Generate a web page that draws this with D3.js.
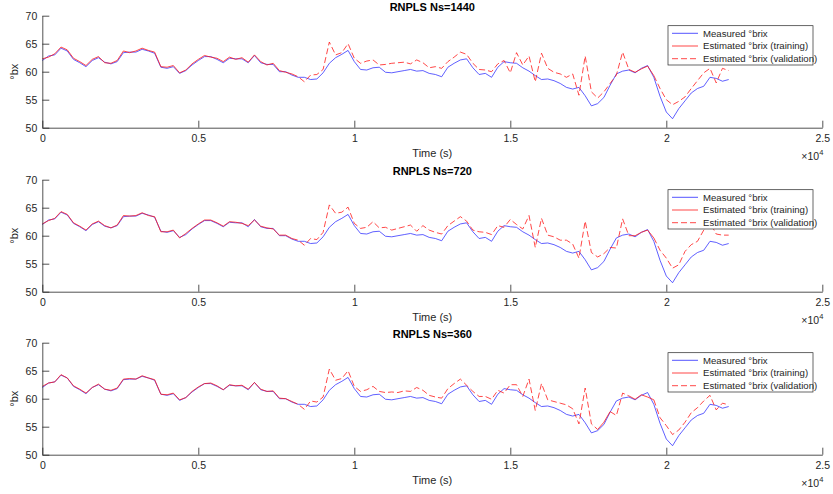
<!DOCTYPE html>
<html>
<head>
<meta charset="utf-8">
<script src="https://cdn.jsdelivr.net/npm/d3@7"></script>
<style>
  body { margin: 0; background: #fff; }
  text { font-family: "Liberation Sans", Arial, Helvetica, sans-serif; }
</style>
</head>
<body>
<div id="chart"></div>
<script>
// sample times (s), one reading every 200 s
const times = d3.range(0, 22001, 200);

// measured brix, shared by all three panels
const measured = [
  62.0, 62.8, 63.0, 64.2, 63.7, 62.2, 61.6, 60.9, 62.0, 62.5,
  61.7, 61.4, 61.8, 63.4, 63.5, 63.5, 64.0, 63.7, 63.3, 60.8,
  60.6, 60.9, 59.7, 60.2, 61.2, 62.0, 62.7, 62.7, 62.2, 61.6,
  62.4, 62.3, 62.3, 61.6, 62.9, 61.6, 61.3, 61.3, 60.0, 60.0,
  59.4,
  59.0, 59.0, 58.6, 58.7, 59.8, 61.5, 62.5, 63.1, 63.8, 61.8,
  60.4, 60.3, 60.7, 60.8, 59.9, 59.8, 60.0, 60.2, 60.4, 60.1,
  60.2, 59.7, 59.5, 59.1, 60.8, 61.5, 62.1, 62.3, 60.7, 59.5,
  59.7, 59.0, 60.8, 61.8, 61.6, 61.5, 60.7, 60.1, 59.3, 58.6,
  58.7, 58.4, 57.9, 57.2, 56.9, 57.2, 55.7, 53.9, 54.3, 55.4,
  57.6, 59.6, 60.1, 60.3, 59.8, 60.6, 61.1, 59.0, 55.6, 52.8,
  51.6, 53.4, 54.8, 56.2, 57.0, 57.4, 59.0, 58.8, 58.3, 58.6
];

const estimated1440 = [
  62.3, 62.6, 63.2, 64.4, 63.9, 62.4, 61.8, 61.1, 62.2, 62.7,
  61.6, 61.5, 62.0, 63.7, 63.4, 63.7, 64.2, 63.8, 63.5, 60.9,
  60.8, 61.1, 59.8, 60.3, 61.4, 62.2, 62.9, 62.6, 62.4, 61.8,
  62.6, 62.2, 62.5, 61.7, 63.0, 61.8, 61.2, 61.5, 60.2, 59.9,
  59.6,
  59.1, 58.2, 59.4, 59.5, 60.4, 65.3, 63.0, 63.4, 65.0, 62.4,
  61.5, 61.9, 62.1, 61.2, 61.3, 61.5, 61.6, 61.7, 61.4, 62.1,
  61.6, 60.7, 60.9, 60.6, 61.8, 62.6, 63.5, 63.1, 61.5, 60.4,
  60.3, 60.0, 61.4, 62.0, 59.8, 63.4, 61.2, 62.8, 58.2, 63.3,
  60.6, 59.9, 59.6, 59.0, 59.6, 55.8, 62.8, 56.4, 55.3, 56.4,
  57.9, 59.4, 63.5, 60.4, 59.9, 60.5, 61.0, 59.3, 57.0, 55.0,
  54.1, 54.7, 55.5, 57.0, 58.4, 59.8, 60.6, 58.0, 60.6, 60.2
];

const estimated720 = [
  62.1, 62.7, 63.1, 64.3, 63.8, 62.3, 61.7, 61.0, 62.1, 62.6,
  61.8, 61.4, 61.9, 63.6, 63.5, 63.6, 64.1, 63.6, 63.4, 60.7,
  60.7, 61.0, 59.6, 60.4, 61.3, 62.1, 62.8, 62.8, 62.3, 61.7,
  62.5, 62.4, 62.2, 61.8, 62.8, 61.7, 61.4, 61.2, 60.1, 60.1,
  59.5,
  59.2, 58.3, 59.5, 59.3, 60.6, 65.5, 64.0, 64.2, 65.1, 62.2,
  61.3, 61.5, 62.5, 61.4, 61.5, 61.0, 61.3, 61.6, 61.9, 60.8,
  61.8, 61.0, 60.6, 60.3, 61.8, 62.6, 63.4, 62.6, 61.0, 60.7,
  60.6, 60.2, 61.8, 61.5, 62.9, 62.0, 61.2, 63.6, 57.9, 63.1,
  60.1, 59.8, 59.2, 59.2, 58.5, 56.0, 62.6, 57.0, 56.2, 56.8,
  57.9, 57.8, 63.0, 60.0, 60.0, 60.6, 61.0, 59.6, 57.4, 56.0,
  54.2, 54.8, 57.2, 58.4, 59.0, 61.0, 62.3, 60.3, 60.1, 60.1
];

const estimated360 = [
  62.2, 62.8, 63.0, 64.3, 63.7, 62.3, 61.7, 61.0, 62.0, 62.6,
  61.7, 61.5, 61.9, 63.5, 63.6, 63.5, 64.1, 63.7, 63.4, 60.8,
  60.7, 61.0, 59.8, 60.2, 61.3, 62.1, 62.7, 62.8, 62.3, 61.6,
  62.5, 62.3, 62.4, 61.7, 62.9, 61.7, 61.3, 61.4, 60.1, 60.0,
  59.5,
  59.0, 58.1, 59.6, 59.4, 60.3, 65.3, 63.3, 63.6, 65.0, 62.2,
  61.3, 61.6, 62.2, 61.3, 61.1, 61.2, 61.1, 61.4, 61.3, 62.0,
  61.5, 60.6, 60.3, 60.1, 61.8, 62.7, 63.5, 62.4, 61.3, 60.4,
  60.4, 59.9, 61.5, 61.0, 62.5, 62.5, 60.4, 63.5, 57.9, 62.7,
  59.8, 59.5, 59.2, 58.9, 58.2, 55.5, 61.9, 55.5, 54.5, 55.8,
  57.7, 57.0, 61.0, 60.5, 59.9, 60.7, 60.3, 59.8, 56.6, 55.2,
  53.6, 54.4, 55.8, 57.5, 58.4, 59.6, 60.6, 58.0, 59.2, 58.9
];

const panelTitles = ['RNPLS Ns=1440', 'RNPLS Ns=720', 'RNPLS Ns=360'];
const panelEstimates = [estimated1440, estimated720, estimated360];
// time windows (s) drawn as the training series
const trainingWindows = [
  [[0, 8000], [18800, 19600]],
  [[0, 8000], [18800, 19600]],
  [[0, 8000], [17800, 18200], [18800, 19600]]
];

const xTicks = [0, 5000, 10000, 15000, 20000, 25000];
const xTickLabels = ['0', '0.5', '1', '1.5', '2', '2.5'];
const yTicks = [50, 55, 60, 65, 70];
const legendLabels = ['Measured \u00B0brix', 'Estimated \u00B0brix (training)', 'Estimated \u00B0brix (validation)'];

// layout
const width = 833, height = 494;
const panelTops = [15.7, 179.7, 342.7];
const plotH = 112;
const left = 42.3, right = 822.3;
const axisColor = '#262626';
const blue = '#2b2bff';
const red = '#ff1a1a';

const svg = d3.select('#chart').append('svg')
  .attr('width', width)
  .attr('height', height);

const x = d3.scaleLinear().domain([0, 25000]).range([left, right]);
const y = d3.scaleLinear().domain([50, 70]).range([plotH, 0]);

function inWindow(t, wins) {
  return wins.some(w => t >= w[0] && t <= w[1]);
}
function strictlyInWindow(t, wins) {
  return wins.some(w => t > w[0] && t < w[1]);
}

panelTitles.forEach((title, i) => {
  const g = svg.append('g').attr('transform', `translate(0,${panelTops[i]})`);
  const est = panelEstimates[i];
  const wins = trainingWindows[i];

  const line = d3.line()
    .x(d => x(d[0]))
    .y(d => y(d[1]));

  const measPts = times.map((t, k) => [t, measured[k]]);
  const estPts = times.map((t, k) => [t, est[k]]);

  g.append('path')
    .attr('d', line(measPts))
    .attr('fill', 'none')
    .attr('stroke', blue)
    .attr('stroke-opacity', 0.75)
    .attr('stroke-width', 1);

  g.append('path')
    .attr('d', line.defined(d => inWindow(d[0], wins))(estPts))
    .attr('fill', 'none')
    .attr('stroke', red)
    .attr('stroke-opacity', 0.8)
    .attr('stroke-width', 1);

  g.append('path')
    .attr('d', line.defined(d => !strictlyInWindow(d[0], wins))(estPts))
    .attr('fill', 'none')
    .attr('stroke', red)
    .attr('stroke-opacity', 0.8)
    .attr('stroke-width', 1)
    .attr('stroke-dasharray', '6,3');

  // axes, ticks pointing inward
  const xAxis = d3.axisBottom(x)
    .tickValues(xTicks)
    .tickFormat((d, k) => xTickLabels[k])
    .tickSizeInner(-7)
    .tickSizeOuter(0)
    .tickPadding(7);
  const yAxis = d3.axisLeft(y)
    .tickValues(yTicks)
    .tickSizeInner(-7)
    .tickSizeOuter(0)
    .tickPadding(5);

  const gx = g.append('g').attr('transform', `translate(0,${plotH})`).call(xAxis);
  const gy = g.append('g').attr('transform', `translate(${left},0)`).call(yAxis);
  [gx, gy].forEach(a => {
    a.select('.domain').attr('stroke', axisColor).attr('stroke-width', 0.8);
    a.selectAll('.tick line').attr('stroke', axisColor).attr('stroke-width', 0.8);
    a.selectAll('.tick text')
      .attr('fill', axisColor)
      .style('font-size', '10.5px')
      .style('font-family', '"Liberation Sans", Arial, sans-serif');
  });

  // title
  g.append('text')
    .attr('x', (left + right) / 2)
    .attr('y', -5)
    .attr('text-anchor', 'middle')
    .style('font-size', '11px')
    .style('font-weight', 'bold')
    .attr('fill', '#000')
    .text(title);

  // x label
  g.append('text')
    .attr('x', (left + right) / 2)
    .attr('y', plotH + 29)
    .attr('text-anchor', 'middle')
    .style('font-size', '11px')
    .attr('fill', axisColor)
    .text('Time (s)');

  // exponent
  const ex = g.append('text')
    .attr('x', right + 1)
    .attr('y', plotH + 32)
    .attr('text-anchor', 'end')
    .style('font-size', '10.5px')
    .attr('fill', axisColor);
  ex.append('tspan').text('\u00D710');
  ex.append('tspan').attr('dy', -5).style('font-size', '7.5px').text('4');

  // y label
  g.append('text')
    .attr('transform', `translate(18,${plotH / 2}) rotate(-90)`)
    .attr('text-anchor', 'middle')
    .style('font-size', '11px')
    .attr('fill', axisColor)
    .text('\u00B0bx');

  // legend
  const lg = g.append('g').attr('transform', 'translate(668,10)');
  lg.append('rect')
    .attr('width', 145)
    .attr('height', 39.3)
    .attr('fill', '#fff')
    .attr('stroke', axisColor)
    .attr('stroke-width', 0.7);
  const styles = [
    { color: blue, dash: null },
    { color: red, dash: null },
    { color: red, dash: '6,3' }
  ];
  legendLabels.forEach((lab, k) => {
    const ry = 7.6 + k * 12.7;
    lg.append('line')
      .attr('x1', 4).attr('x2', 30)
      .attr('y1', ry).attr('y2', ry)
      .attr('stroke', styles[k].color)
      .attr('stroke-opacity', 0.8)
      .attr('stroke-width', 1)
      .attr('stroke-dasharray', styles[k].dash);
    lg.append('text')
      .attr('x', 35)
      .attr('y', ry + 3.4)
      .style('font-size', '9.6px')
      .attr('fill', axisColor)
      .text(lab);
  });
});
</script>
</body>
</html>
